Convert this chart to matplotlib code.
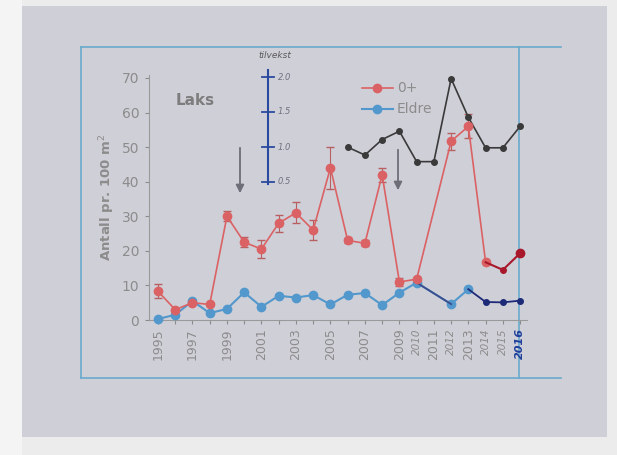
import numpy as np
import matplotlib
matplotlib.use("Agg")
from matplotlib import pyplot as plt

# data
years = list(range(1995, 2017))
young = [8.3, 3.0, 5.0, 4.5, 30.0, 22.5, 20.5, 28.0, 31.0, 26.0, 44.0, 23.0, 22.2, 42.0,
         11.0, 11.8, np.nan, 51.7, 56.0, 16.7, 14.5, 19.3]
young_err = [2.0, 0, 0, 0, 1.5, 1.5, 2.5, 2.5, 3.0, 3.0, 6.0, 0.8, 0.8, 2.0,
             1.2, 0, 0, 2.5, 3.5, 0, 0, 0]
older = [0.3, 1.5, 5.5, 2.0, 3.2, 8.0, 3.8, 7.0, 6.5, 7.2, 4.5, 7.3, 7.8, 4.3,
         7.9, 10.8, np.nan, 4.6, 8.9, 5.2, 5.1, 5.6]
hand_years = list(range(2006, 2017))
hand_line = [50.0, 47.7, 52.2, 54.6, 45.8, 45.8, 69.8, 58.6, 49.8, 49.8, 56.0]
scale_vals = [2.0, 1.5, 1.0, 0.5]
scale_labels = ["2.0", "1.5", "1.0", "0.5"]

W, H = 617, 455
fig = plt.figure(figsize=(W / 100, H / 100), dpi=100)
fig.patch.set_facecolor("#ececec")

# background / scanned sheet, in pixel coordinates
bg = fig.add_axes([0, 0, 1, 1])
bg.set_xlim(0, W)
bg.set_ylim(H, 0)
bg.axis("off")
bg.add_patch(plt.Rectangle((0, 0), 22, H, color="#f4f4f4", lw=0))
bg.add_patch(plt.Rectangle((22, 6), 585, 431, color="#cfcfd8", lw=0))
frame_c = "#6aaacb"
bg.plot([81, 561], [47, 47], color=frame_c, lw=1.2)
bg.plot([81, 561], [378, 378], color=frame_c, lw=1.2)
bg.plot([81, 81], [47, 378], color=frame_c, lw=1.2)
bg.plot([519, 519], [47, 378], color=frame_c, lw=1.2)

# main chart
x0, x1 = 149, 527
y0, y1 = 320, 74.5
ax = fig.add_axes([x0 / W, (H - y0) / H, (x1 - x0) / W, (y0 - y1) / H])
ax.patch.set_alpha(0)
ax.set_xlim(1994.48, 2016.4)
ax.set_ylim(0, 71)
for s in ["top", "right"]:
    ax.spines[s].set_visible(False)
for s in ["left", "bottom"]:
    ax.spines[s].set_color("#9a9a9a")
    ax.spines[s].set_linewidth(0.8)

grey = "#8c8c8c"
ax.set_yticks(range(0, 71, 10))
ax.tick_params(axis="y", colors=grey, labelsize=10, length=3, pad=4)
ax.set_ylabel("Antall pr. 100 m$^2$", color=grey, fontsize=9.5, fontweight="bold", labelpad=3)

labels = []
for y in years:
    if (y % 2 == 1 and y <= 2013) or y in (2010, 2012, 2014, 2015, 2016):
        labels.append(str(y))
    else:
        labels.append("")
ax.set_xticks(years)
ax.set_xticklabels(labels, rotation=90)
ax.tick_params(axis="x", colors=grey, labelsize=9, length=3, pad=3)
for y, t in zip(years, ax.get_xticklabels()):
    if y in (2010, 2012, 2014, 2015):
        t.set_fontsize(7.5)
        t.set_fontstyle("italic")
    elif y == 2016:
        t.set_fontsize(8)
        t.set_fontstyle("italic")
        t.set_fontweight("bold")
        t.set_color("#1f3f9a")

yr = np.array(years, dtype=float)
yg = np.array(young)
ol = np.array(older)
ok = ~np.isnan(yg)
ok_o = ~np.isnan(ol)

red = "#db6264"
blue = "#5298cc"
dark_red = "#a8182a"
navy = "#1c2a78"

# printed series
ax.errorbar(yr[ok][:19], yg[ok][:19], yerr=np.array(young_err)[ok][:19], color=red, lw=1.2,
            marker="o", ms=6, capsize=3, elinewidth=0.8, ecolor="#b86060", zorder=4, clip_on=False)
ax.plot(yr[ok_o][:18], ol[ok_o][:18], color=blue, lw=1.5, marker="o", ms=6, zorder=3, clip_on=False)

# hand-drawn additions
ax.plot(yr[-3:], yg[-3:], color=dark_red, lw=1.5, zorder=5)
ax.plot(yr[-2:], yg[-2:], "o", color=dark_red, ms=4, zorder=5)
ax.plot(yr[-1], yg[-1], color=dark_red, marker="o", ms=6, zorder=6)
ax.plot([2010, 2012], [ol[15], ol[17]], color="#3b4c8c", lw=1.3, zorder=3)
ax.plot(yr[-4:], ol[-4:], color=navy, lw=1.3, zorder=5)
ax.plot(yr[-3:], ol[-3:], "o", color=navy, ms=4, zorder=5)
ax.plot(hand_years, hand_line, color="#3a3a3a", lw=1.2, marker="o", ms=4, zorder=4)

# legend drawn by hand-ish
ax.text(1996.0, 63.5, "Laks", color="#7d7d7d", fontsize=11, fontweight="bold", va="center")
bg.plot([362, 393], [88, 88], color=red, lw=1.2)
bg.plot([377], [88], "o", color=red, ms=6)
bg.plot([362, 393], [109, 109], color=blue, lw=1.5)
bg.plot([377], [109], "o", color=blue, ms=6)
bg.text(397, 88, "0+", color=grey, fontsize=10, va="center")
bg.text(397, 109, "Eldre", color=grey, fontsize=10, va="center")

# hand-drawn scale bar
sc = "#2a4aa0"
ov = fig.add_axes([0, 0, 1, 1])
ov.set_xlim(0, W)
ov.set_ylim(H, 0)
ov.axis("off")
ov.plot([268, 268], [70, 184], color=sc, lw=1.5)
for v, lab in zip(scale_vals, scale_labels):
    py = 147 - (v - 1.0) * 70
    ov.plot([262, 274], [py, py], color=sc, lw=1.3)
    ov.text(278, py, lab, color="#707080", fontsize=6, fontstyle="italic", va="center")
ov.text(258, 56, "tilvekst", color="#5a5a5a", fontsize=6.5, fontstyle="italic", va="center")

# arrows
for ax_x, top, bot in [(240, 145, 196), (398, 147, 193)]:
    ov.annotate("", xy=(ax_x, bot), xytext=(ax_x, top),
                arrowprops=dict(arrowstyle="-|>", color="#6e6e78", lw=1.3, mutation_scale=12))

fig.savefig("out.png", dpi=100)
